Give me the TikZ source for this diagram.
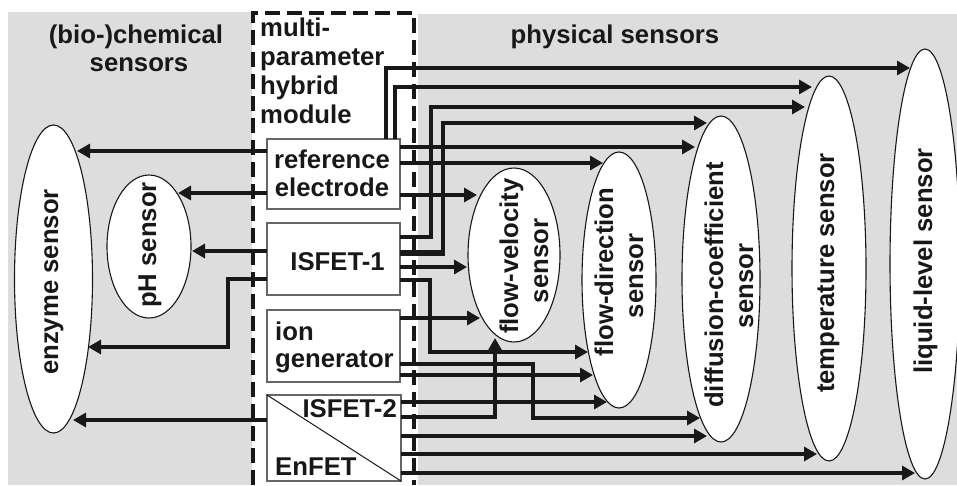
\documentclass[tikz,border=0pt]{standalone}
\usepackage{fontspec}
\setmainfont{Liberation Sans}
\usetikzlibrary{arrows.meta,shapes.geometric}

\definecolor{panel}{RGB}{221,221,221}
\definecolor{ink}{RGB}{24,24,24}

\begin{document}
\begin{tikzpicture}[x=1pt,y=-1pt,
  conn/.style={line width=3.2pt, draw=ink, -{Triangle[length=13pt,width=14pt]}},
  wire/.style={line width=3.2pt, draw=ink},
  sensor/.style={ellipse, draw=ink, line width=1.1pt, fill=white, inner sep=0pt, outer sep=0pt},
  unit/.style={rectangle, draw=black!60, line width=1.3pt, fill=white, inner sep=0pt, outer sep=0pt},
  lbl/.style={font=\fontsize{25.7}{29}\selectfont\bfseries, text=ink, inner sep=0pt},
  vlbl/.style={lbl, rotate=90, anchor=base},
]
\useasboundingbox (0,0) rectangle (957,485);

% sensor groups
\fill[panel] (8,12) rectangle (252,485);
\fill[panel] (418,14) rectangle (957,485);

% sensors
\node[sensor, minimum width=78pt, minimum height=308pt] (enz)  at (53.5,279) {};
\node[sensor, minimum width=84pt, minimum height=143pt] (ph)   at (149,246.5) {};
\node[sensor, minimum width=92pt, minimum height=174pt] (fv)   at (514,255) {};
\node[sensor, minimum width=74pt, minimum height=256pt] (fd)   at (619,280) {};
\node[sensor, minimum width=78pt, minimum height=326pt] (dc)   at (721,279) {};
\node[sensor, minimum width=74pt, minimum height=385pt] (temp) at (829,268.5) {};
\node[sensor, minimum width=70pt, minimum height=430pt] (liq)  at (925,264) {};

% units of the hybrid module
\node[unit, minimum width=133pt, minimum height=70pt] (ref)  at (333.5,174) {};
\node[unit, minimum width=133pt, minimum height=72pt] (isf1) at (333.5,259) {};
\node[unit, minimum width=133pt, minimum height=72pt] (ion)  at (333.5,346) {};
\node[unit, minimum width=134pt, minimum height=86pt] (isf2) at (334,438) {};
\draw[ink, line width=1pt] (isf2.north west) -- (isf2.south east);

% connections to the (bio-)chemical sensors
\draw[conn] (ref.west |- 0,151) -- (77,151);
\draw[conn] (ref.west |- 0,193) -- (178,193);
\draw[conn] (isf1.west |- 0,251) -- (192,251);
\draw[conn] (isf1.west |- 0,279) -| (228,347) -- (88,347);
\draw[conn] (isf2.west |- 0,420) -- (73,420);

% connections to the physical sensors
\draw[conn] (ref.north -| 386,0) |- (910,68);
\draw[conn] (ref.north -| 395,0) |- (812,87);
\draw[conn] (isf1.east |- 0,237) -| (431,107) -- (805,107);
\draw[wire, line width=6pt] (isf1.east |- 0,253) -- (444.6,253);
\draw[conn] (isf1.east |- 0,253) -| (443,123) -- (707,123);
\draw[conn] (ref.east |- 0,147) -- (695,147);
\draw[conn] (ref.east |- 0,163) -- (603,163);
\draw[conn] (ref.east |- 0,195) -- (477,195);
\draw[conn] (isf1.east |- 0,267) -- (467,267);
\draw[conn] (isf1.east |- 0,280) -| (430,352) -- (588,352);
\draw[conn] (ion.east |- 0,318) -- (480,318);
\draw[conn] (ion.east |- 0,364) -| (533,418) -- (700,418);
\draw[conn] (ion.east |- 0,375) -- (593,375);
\draw[conn] (isf2.east |- 0,402) -- (607,402);
\draw[conn] (isf2.east |- 0,417) -| (495,338);
\draw[conn] (isf2.east |- 0,436) -- (707,436);
\draw[conn] (isf2.east |- 0,454) -- (817,454);
\draw[conn] (isf2.east |- 0,473) -- (915,473);

% outline of the hybrid module
\draw[ink, line width=3.6pt, dash pattern=on 15pt off 7pt]
  (253,485) -- (253,13) -- (414,13) -- (414,485);

% headings
\node[lbl, anchor=base] (chem1) at (136,43) {(bio-)chemical};
\node[lbl, anchor=base] (chem2) at (139,71) {sensors};
\node[lbl, anchor=base] (phys) at (615,43) {physical sensors};
\node[lbl, anchor=base west] (mod1) at (260,36) {multi-};
\node[lbl, anchor=base west] (mod2) at (260,65) {parameter};
\node[lbl, anchor=base west] (mod3) at (260,94) {hybrid};
\node[lbl, anchor=base west] (mod4) at (260,123) {module};

% unit labels
\node[lbl, anchor=base] (reft1) at (332,168) {reference};
\node[lbl, anchor=base] (reft2) at (332,196) {electrode};
\node[lbl, anchor=base] (isf1t) at (337.5,270) {ISFET-1};
\node[lbl, anchor=base west] (iont1) at (275,340) {ion};
\node[lbl, anchor=base west] (iont2) at (275,367) {generator};
\node[lbl, anchor=base east] (isf2t) at (397,417) {ISFET-2};
\node[lbl, anchor=base west] (enft) at (275,475) {EnFET};

% sensor labels
\node[vlbl] (enzt) at (58,282) {enzyme sensor};
\node[vlbl] (pht) at (156,245) {pH sensor};
\node[vlbl] (fvt1) at (518,256) {flow-velocity};
\node[vlbl] (fvt2) at (548,261) {sensor};
\node[vlbl] (fdt1) at (613,272) {flow-direction};
\node[vlbl] (fdt2) at (643,276) {sensor};
\node[vlbl] (dct1) at (723,285) {diffusion-coefficient};
\node[vlbl] (dct2) at (753,286) {sensor};
\node[vlbl] (tempt) at (834,273) {temperature sensor};
\node[vlbl] (liqt) at (932,261) {liquid-level sensor};
\end{tikzpicture}
\end{document}
